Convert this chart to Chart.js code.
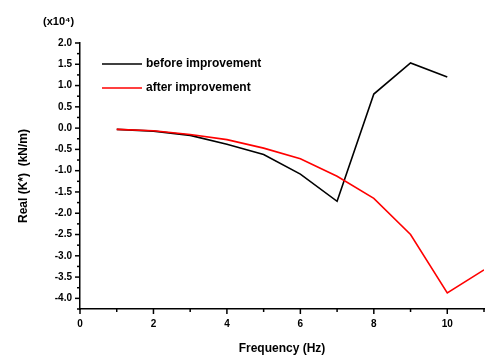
<!DOCTYPE html>
<html>
<head>
<meta charset="utf-8">
<script src="https://cdn.jsdelivr.net/npm/chart.js@4.4.1/dist/chart.umd.min.js"></script>
<style>
  html, body { margin: 0; padding: 0; background: #fff; }
  #wrap { width: 493px; height: 356px; }
</style>
</head>
<body>
<div id="wrap"><canvas id="myChart" width="493" height="356"></canvas></div>
<script>
var freqBefore = [1, 2, 3, 4, 5, 6, 7, 8, 9, 10];
var valBefore = [-0.03, -0.07, -0.17, -0.38, -0.62, -1.08, -1.72, 0.8, 1.53, 1.2];
var freqAfter = [1, 2, 3, 4, 5, 6, 7, 8, 9, 10, 11];
var valAfter = [-0.03, -0.06, -0.15, -0.27, -0.47, -0.72, -1.13, -1.65, -2.5, -3.87, -3.33];
var xTickLabels = ["0", "2", "4", "6", "8", "10"];
var yTickLabels = ["2.0", "1.5", "1.0", "0.5", "0.0", "-0.5", "-1.0", "-1.5", "-2.0", "-2.5", "-3.0", "-3.5", "-4.0"];
var seriesNames = ["before improvement", "after improvement"];

var fontFam = "'Liberation Sans', Arial, sans-serif";

function pts(xs, ys) {
  var out = [];
  for (var i = 0; i < xs.length; i++) out.push({x: xs[i], y: ys[i]});
  return out;
}

// ticks drawn outside the axes, major + minor
var tickPlugin = {
  id: 'outTicks',
  afterDraw: function(chart) {
    var c = chart.ctx, xs = chart.scales.x, ys = chart.scales.y, a = chart.chartArea;
    c.save();
    c.strokeStyle = '#000';
    c.lineWidth = 1.5;
    for (var v = 0; v <= 11; v++) {
      var px = xs.getPixelForValue(v);
      var len = (v % 2 === 0) ? 5 : 3;
      c.beginPath(); c.moveTo(px, a.bottom); c.lineTo(px, a.bottom + len); c.stroke();
    }
    for (var k = 0; k <= 25; k++) {
      var yv = 2 - k * 0.25;
      var py = ys.getPixelForValue(yv);
      var l2 = (k % 2 === 0) ? 5 : 3;
      c.beginPath(); c.moveTo(a.left, py); c.lineTo(a.left - l2, py); c.stroke();
    }
    // multiplier label
    c.fillStyle = '#000';
    c.font = 'bold 11px ' + fontFam;
    c.textAlign = 'left';
    c.textBaseline = 'middle';
    c.fillText('(x10\u2074)', 43, 22);
    // legend
    var ds = chart.data.datasets;
    c.font = 'bold 12px ' + fontFam;
    for (var i = 0; i < ds.length; i++) {
      var ly = 64 + i * 24;
      c.strokeStyle = ds[i].borderColor;
      c.lineWidth = 1.5;
      c.beginPath(); c.moveTo(102, ly); c.lineTo(142, ly); c.stroke();
      c.fillText(ds[i].label, 146, ly);
    }
    c.restore();
  }
};

chart = new Chart(document.getElementById('myChart'), {
  type: 'scatter',
  data: {
    datasets: [{
      label: seriesNames[0],
      data: pts(freqBefore, valBefore),
      showLine: true,
      order: 1,
      borderColor: '#000',
      backgroundColor: '#000',
      borderWidth: 1.6,
      pointRadius: 0
    }, {
      label: seriesNames[1],
      data: pts(freqAfter, valAfter),
      showLine: true,
      order: 0,
      borderColor: '#ff0000',
      backgroundColor: '#ff0000',
      borderWidth: 1.6,
      pointRadius: 0
    }]
  },
  options: {
    responsive: false,
    animation: false,
    layout: {padding: {top: 43, right: 0, left: 0, bottom: 0}},
    plugins: {legend: {display: false}, tooltip: {enabled: false}},
    scales: {
      x: {
        type: 'linear', min: 0, max: 11,
        afterFit: function(s) { s.height = 47; },
        border: {display: true, color: '#000', width: 1.5},
        grid: {drawOnChartArea: false, drawTicks: false},
        ticks: {
          stepSize: 2, padding: 9, color: '#000', maxRotation: 0, autoSkip: false,
          font: {family: fontFam, weight: 'bold', size: 10},
          callback: function(v) { return v % 2 === 0 && v <= 10 ? xTickLabels[v / 2] : ''; }
        },
        title: {display: true, text: 'Frequency (Hz)', color: '#000', padding: {top: 7, bottom: 0},
          font: {family: fontFam, weight: 'bold', size: 12}}
      },
      y: {
        type: 'linear', min: -4.25, max: 2,
        afterFit: function(s) { s.width = 80; },
        border: {display: true, color: '#000', width: 1.5},
        grid: {drawOnChartArea: false, drawTicks: false},
        afterBuildTicks: function(s) {
          s.ticks = yTickLabels.map(function(t) { return {value: parseFloat(t)}; });
        },
        ticks: {
          padding: 8, color: '#000', autoSkip: false,
          font: {family: fontFam, weight: 'bold', size: 10},
          callback: function(v) { return v.toFixed(1); }
        },
        title: {display: true, text: 'Real (K*)  (kN/m)', color: '#000', padding: {top: 16, bottom: 0},
          font: {family: fontFam, weight: 'bold', size: 12}}
      }
    }
  },
  plugins: [tickPlugin]
});
</script>
</body>
</html>
